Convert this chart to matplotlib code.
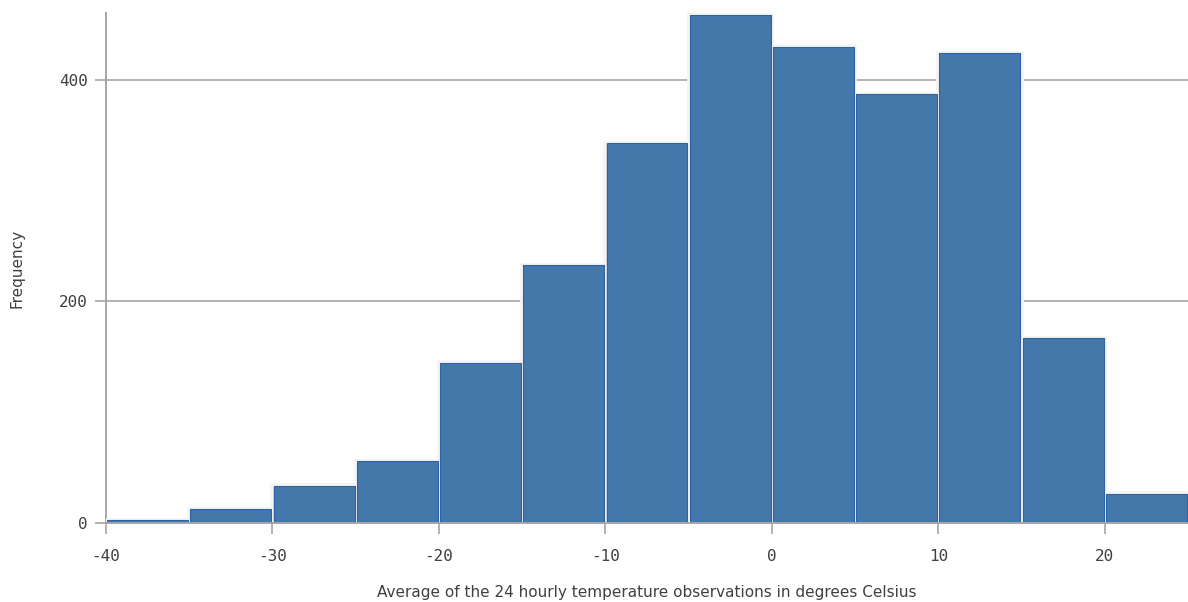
import numpy as np
import matplotlib.pyplot as plt

# histogram bins (degrees Celsius) and counts
bin_edges = [-40, -35, -30, -25, -20, -15, -10, -5, 0, 5, 10, 15, 20, 25]
counts = [3, 13, 34, 56, 145, 233, 343, 459, 430, 387, 424, 167, 27]
y_ticks = [0, 200, 400]
x_ticks = [-40, -30, -20, -10, 0, 10, 20]

BAR_COLOR = "#4477aa"
BAR_EDGE = "#2c62a6"
AXIS_COLOR = "#a6a6a6"
TEXT_COLOR = "#404040"

fig = plt.figure(figsize=(11.88, 6.02), dpi=100)
ax = fig.add_axes([106 / 1188, 79 / 602, 1 - 106 / 1188, 510 / 602])

lefts = np.array(bin_edges[:-1])
widths = np.diff(bin_edges)
# white outer outline, then thin darker inner border
ax.bar(lefts, counts, width=widths, align="edge", color=BAR_COLOR,
       edgecolor="#f6f3f0", linewidth=2.6, zorder=3)
ax.bar(lefts + 0.07, np.array(counts) - 0.5, width=widths - 0.14, align="edge",
       color=BAR_COLOR, edgecolor=BAR_EDGE, linewidth=0.8, zorder=3)

ax.set_xlim(bin_edges[0], bin_edges[-1])
ax.set_ylim(0, 460)
ax.set_xticks(x_ticks)
ax.set_yticks(y_ticks)
ax.set_xticklabels([str(t) for t in x_ticks], family="DejaVu Sans Mono")
ax.set_yticklabels([str(t) for t in y_ticks], family="DejaVu Sans Mono")
ax.tick_params(colors=AXIS_COLOR, labelcolor=TEXT_COLOR, labelsize=11.5,
               length=8, width=1.2, pad=5)
ax.tick_params(axis="x", pad=11)

ax.grid(axis="y", color=AXIS_COLOR, linewidth=1.2, zorder=0)
for side in ["top", "right"]:
    ax.spines[side].set_visible(False)
for side in ["left", "bottom"]:
    ax.spines[side].set_color(AXIS_COLOR)
    ax.spines[side].set_linewidth(1.4)
ax.spines["bottom"].set_zorder(4)

ax.set_xlabel("Average of the 24 hourly temperature observations in degrees Celsius",
              fontsize=11, color=TEXT_COLOR, labelpad=15)
ax.set_ylabel("Frequency", fontsize=11, color=TEXT_COLOR)
ax.yaxis.set_label_coords(-0.075, 0.5)

fig.savefig("out.png", dpi=100)
